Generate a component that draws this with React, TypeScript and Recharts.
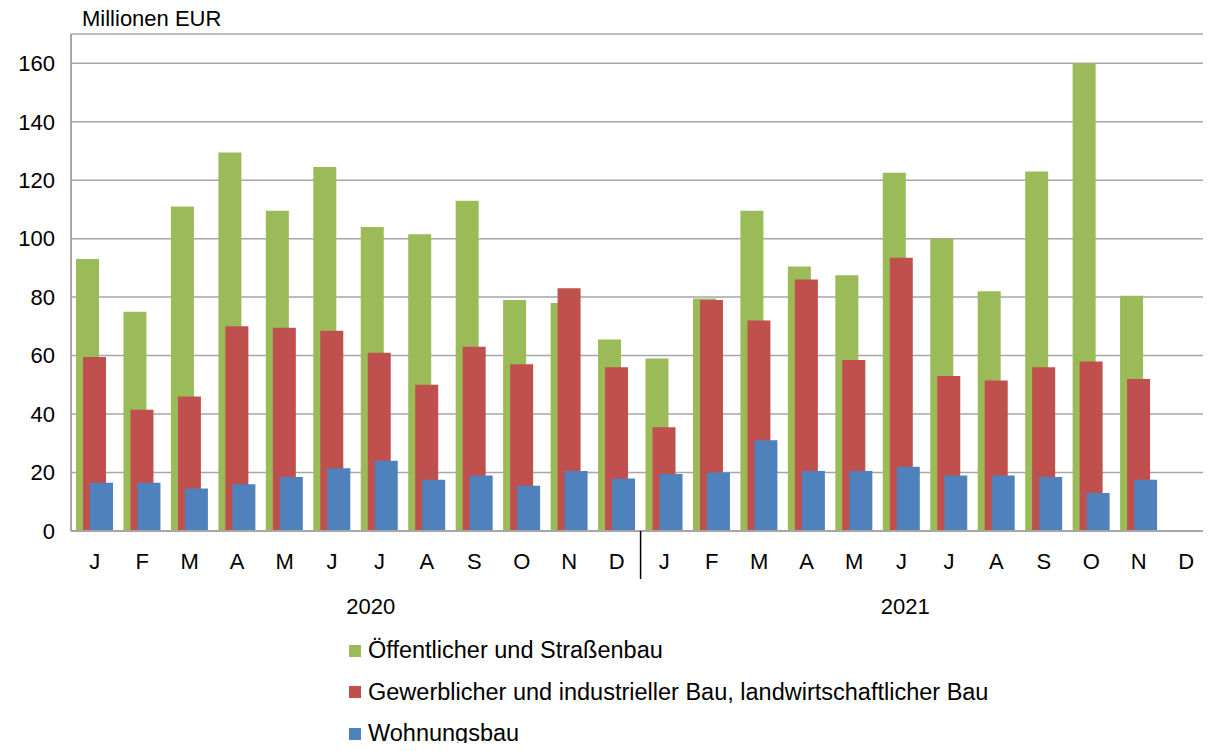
import React from 'react';
import { BarChart, Bar, XAxis, YAxis, CartesianGrid } from 'recharts';

const months = ['J','F','M','A','M','J','J','A','S','O','N','D','J','F','M','A','M','J','J','A','S','O','N','D'];
const oeffentlich = [93,75,111,129.5,109.5,124.5,104,101.5,113,79,78,65.5,59,79.5,109.5,90.5,87.5,122.5,100,82,123,160,80.5,null];
const gewerblich = [59.5,41.5,46,70,69.5,68.5,61,50,63,57,83,56,35.5,79,72,86,58.5,93.5,53,51.5,56,58,52,null];
const wohnungsbau = [16.5,16.5,14.5,16,18.5,21.5,24,17.5,19,15.5,20.5,18,19.5,20,31,20.5,20.5,22,19,19,18.5,13,17.5,null];
const yTicks = [0,20,40,60,80,100,120,140,160];
const years = ['2020','2021'];

const data = months.map((m, i) => ({ i, m, a: oeffentlich[i], b: gewerblich[i], c: wohnungsbau[i] }));

const series = [
  { key: 'a', name: 'Öffentlicher und Straßenbau', color: '#9BBB59' },
  { key: 'b', name: 'Gewerblicher und industrieller Bau, landwirtschaftlicher Bau', color: '#C0504D' },
  { key: 'c', name: 'Wohnungsbau', color: '#4F81BD' },
];

const FS = 22;

const MonthTick = (props: any) => {
  const { x, y, payload, index } = props;
  const step = 47.3;
  return (
    <g>
      <text x={x} y={y + 30} textAnchor="middle" fontSize={FS} fill="#000">{months[payload.value]}</text>
      {index === 5 && <text x={x + step / 2 + 15} y={y + 75} textAnchor="middle" fontSize={FS} fill="#000">{years[0]}</text>}
      {index === 17 && <text x={x + step / 2 - 20} y={y + 75} textAnchor="middle" fontSize={FS} fill="#000">{years[1]}</text>}
      {index === 12 && <line x1={x - step / 2} x2={x - step / 2} y1={y - 8} y2={y + 40} stroke="#000" strokeWidth={1.5} />}
    </g>
  );
};

export default function App() {
  return (
    <div style={{ margin: -8, width: 1211, height: 751, position: 'relative', background: '#fff', fontFamily: 'Arial, Liberation Sans, sans-serif' }}>
      <div style={{ position: 'absolute', left: 82, top: 6, fontSize: FS }}>Millionen EUR</div>
      <BarChart width={1211} height={751} data={data} margin={{ top: 34, right: 1, left: 0, bottom: 0 }} barSize={23} barGap={-16} barCategoryGap={0}>
        <CartesianGrid vertical={false} stroke="#A6A6A6" strokeWidth={1.5} />
        <XAxis dataKey="i" height={220} tick={<MonthTick />} tickLine={false} axisLine={{ stroke: '#A6A6A6', strokeWidth: 2 }} interval={0} />
        <YAxis domain={[0, 170]} ticks={yTicks} width={71} tick={{ fontSize: FS, fill: '#000' }} tickLine={false} axisLine={{ stroke: '#A6A6A6', strokeWidth: 2 }} tickMargin={10} />
        {series.map((s) => (
          <Bar key={s.key} dataKey={s.key} name={s.name} fill={s.color} isAnimationActive={false} />
        ))}
      </BarChart>
      <div style={{ position: 'absolute', left: 349, top: 630, fontSize: 23.5 }}>
        {series.map((s) => (
          <div key={s.key} style={{ display: 'flex', alignItems: 'center', height: 41.5 }}>
            <span style={{ width: 12, height: 12, background: s.color, marginRight: 7, display: 'inline-block' }} />
            <span>{s.name}</span>
          </div>
        ))}
      </div>
    </div>
  );
}
